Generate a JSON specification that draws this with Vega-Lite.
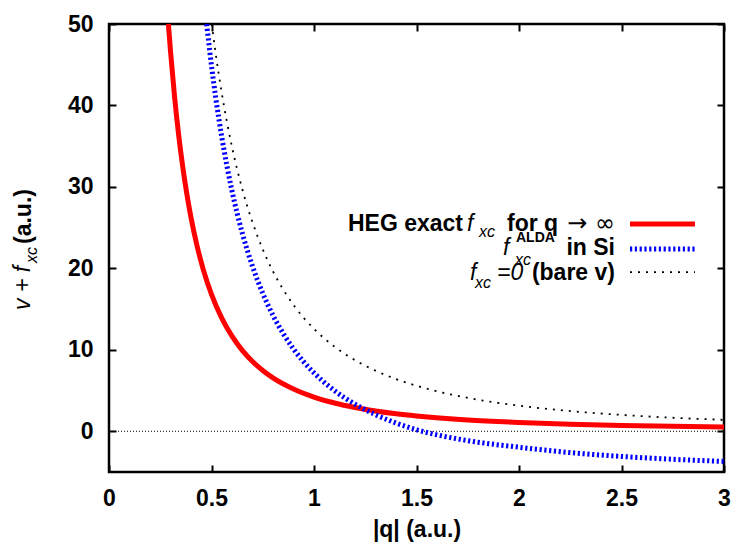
{
  "$schema": "https://vega.github.io/schema/vega-lite/v6.json",
  "width": 615,
  "height": 448,
  "autosize": "none",
  "padding": {"left": 109, "top": 24, "right": 14, "bottom": 76},
  "config": {"view": {"stroke": "black", "strokeWidth": 2.5}, "font": "Liberation Sans"},
  "encoding": {
    "x": {"field": "q", "type": "quantitative", "scale": {"domain": [0, 3], "nice": false, "zero": false}, "axis": null},
    "y": {"field": "v", "type": "quantitative", "scale": {"domain": [-5, 50], "nice": false, "zero": false}, "axis": null}
  },
  "layer": [
    {
      "data": {"values": [{"q": 0, "q2": 3, "v": 0}]},
      "mark": {"type": "rule", "color": "black", "strokeWidth": 1, "strokeDash": [1, 2]},
      "encoding": {"x2": {"field": "q2"}}
    },
    {
      "data": {"values": [
        {"q": 0.2898, "v": 50}, {"q": 0.3, "v": 46.67}, {"q": 0.32, "v": 41.02}, {"q": 0.34, "v": 36.33},
        {"q": 0.36, "v": 32.41}, {"q": 0.38, "v": 29.09}, {"q": 0.4, "v": 26.25}, {"q": 0.43, "v": 22.71},
        {"q": 0.46, "v": 19.85}, {"q": 0.5, "v": 16.8}, {"q": 0.55, "v": 13.88}, {"q": 0.6, "v": 11.67},
        {"q": 0.65, "v": 9.94}, {"q": 0.7, "v": 8.57}, {"q": 0.75, "v": 7.47}, {"q": 0.8, "v": 6.56},
        {"q": 0.9, "v": 5.19}, {"q": 1.0, "v": 4.2}, {"q": 1.1, "v": 3.47}, {"q": 1.2, "v": 2.92},
        {"q": 1.3, "v": 2.49}, {"q": 1.4, "v": 2.15}, {"q": 1.5, "v": 1.88}, {"q": 1.75, "v": 1.39},
        {"q": 2.0, "v": 1.08}, {"q": 2.25, "v": 0.87}, {"q": 2.5, "v": 0.71}, {"q": 2.75, "v": 0.61},
        {"q": 3.0, "v": 0.53}
      ]},
      "mark": {"type": "line", "color": "#ff0000", "strokeWidth": 5, "interpolate": "monotone"},
      "encoding": {
        "x": {"field": "q", "type": "quantitative", "scale": {"domain": [0, 3], "nice": false, "zero": false},
          "axis": {"orient": "bottom", "values": [0, 0.5, 1, 1.5, 2, 2.5, 3], "format": "~g", "tickSize": -7, "tickWidth": 2, "tickColor": "black",
            "domain": false, "grid": false, "labelFont": "Liberation Sans", "labelFontWeight": "bold", "labelFontSize": 23, "labelColor": "black",
            "labelPadding": 22, "labelFlush": false, "labelOverlap": false,
            "title": "|q| (a.u.)", "titleFont": "Liberation Sans", "titleFontWeight": "bold", "titleFontSize": 23, "titleColor": "black", "titlePadding": 8}},
        "y": {"field": "v", "type": "quantitative", "scale": {"domain": [-5, 50], "nice": false, "zero": false},
          "axis": {"orient": "left", "values": [0, 10, 20, 30, 40, 50], "format": "d", "tickSize": -7, "tickWidth": 2, "tickColor": "black",
            "domain": false, "grid": false, "labelFont": "Liberation Sans", "labelFontWeight": "bold", "labelFontSize": 23, "labelColor": "black",
            "labelPadding": 23, "labelFlush": false, "labelOverlap": false, "title": null}}
      }
    },
    {
      "data": {"values": [
        {"q": 0.4763, "v": 50}, {"q": 0.5, "v": 44.87}, {"q": 0.52, "v": 41.07}, {"q": 0.55, "v": 36.14},
        {"q": 0.6, "v": 29.51}, {"q": 0.65, "v": 24.34}, {"q": 0.7, "v": 20.25}, {"q": 0.75, "v": 16.94},
        {"q": 0.8, "v": 14.23}, {"q": 0.85, "v": 11.99}, {"q": 0.9, "v": 10.11}, {"q": 0.95, "v": 8.52},
        {"q": 1.0, "v": 7.17}, {"q": 1.1, "v": 4.99}, {"q": 1.2, "v": 3.33}, {"q": 1.3, "v": 2.04},
        {"q": 1.4, "v": 1.01}, {"q": 1.5, "v": 0.19}, {"q": 1.6, "v": -0.44}, {"q": 1.75, "v": -1.15},
        {"q": 2.0, "v": -1.96}, {"q": 2.25, "v": -2.62}, {"q": 2.5, "v": -3.09}, {"q": 2.75, "v": -3.44},
        {"q": 3.0, "v": -3.7}
      ]},
      "mark": {"type": "line", "color": "#0000ff", "strokeWidth": 5, "strokeDash": [2.2, 2.6], "interpolate": "monotone"}
    },
    {
      "data": {"values": [
        {"q": 0.5013, "v": 50}, {"q": 0.52, "v": 46.47}, {"q": 0.55, "v": 41.54}, {"q": 0.6, "v": 34.91},
        {"q": 0.65, "v": 29.74}, {"q": 0.7, "v": 25.65}, {"q": 0.75, "v": 22.34}, {"q": 0.8, "v": 19.63},
        {"q": 0.85, "v": 17.39}, {"q": 0.9, "v": 15.51}, {"q": 0.95, "v": 13.92}, {"q": 1.0, "v": 12.57},
        {"q": 1.1, "v": 10.39}, {"q": 1.2, "v": 8.73}, {"q": 1.3, "v": 7.44}, {"q": 1.4, "v": 6.41},
        {"q": 1.5, "v": 5.59}, {"q": 1.6, "v": 4.91}, {"q": 1.75, "v": 4.1}, {"q": 2.0, "v": 3.14},
        {"q": 2.25, "v": 2.48}, {"q": 2.5, "v": 2.01}, {"q": 2.75, "v": 1.66}, {"q": 3.0, "v": 1.4}
      ]},
      "mark": {"type": "line", "color": "black", "strokeWidth": 1.8, "strokeDash": [2, 6], "interpolate": "monotone"},
      "encoding": {
        "x": {"field": "q", "type": "quantitative", "scale": {"domain": [0, 3], "nice": false, "zero": false},
          "axis": {"orient": "top", "values": [0, 0.5, 1, 1.5, 2, 2.5, 3], "tickSize": -7, "tickWidth": 2, "tickColor": "black",
            "domain": false, "grid": false, "labels": false, "title": null}},
        "y": {"field": "v", "type": "quantitative", "scale": {"domain": [-5, 50], "nice": false, "zero": false},
          "axis": {"orient": "right", "values": [0, 10, 20, 30, 40, 50], "tickSize": -7, "tickWidth": 2, "tickColor": "black",
            "domain": false, "grid": false, "labels": false, "title": null}}
      }
    },
    {
      "data": {"values": [{"q": 2.5415, "q2": 2.8585, "v": 25.45}]},
      "mark": {"type": "rule", "color": "#ff0000", "strokeWidth": 5},
      "encoding": {"x2": {"field": "q2"}}
    },
    {
      "data": {"values": [{"q": 2.5415, "q2": 2.8585, "v": 22.38}]},
      "mark": {"type": "rule", "color": "#0000ff", "strokeWidth": 5, "strokeDash": [2.2, 2.6]},
      "encoding": {"x2": {"field": "q2"}}
    },
    {
      "data": {"values": [{"q": 2.5415, "q2": 2.8585, "v": 19.55}]},
      "mark": {"type": "rule", "color": "black", "strokeWidth": 1.8, "strokeDash": [2, 6]},
      "encoding": {"x2": {"field": "q2"}}
    },
    {
      "data": {"values": [
        {"q": 1.7268, "v": 24.53, "t": "HEG exact"},
        {"q": 2.4683, "v": 21.64, "t": "in Si"},
        {"q": 2.4683, "v": 18.57, "t": "(bare v)"}
      ]},
      "mark": {"type": "text", "font": "Liberation Sans", "fontWeight": "bold", "fontSize": 23, "align": "right", "baseline": "alphabetic", "color": "black"},
      "encoding": {"text": {"field": "t"}}
    },
    {
      "data": {"values": [{"q": 1.9415, "v": 24.53, "t": "for q"}]},
      "mark": {"type": "text", "font": "Liberation Sans", "fontWeight": "bold", "fontSize": 23, "align": "left", "baseline": "alphabetic", "color": "black"},
      "encoding": {"text": {"field": "t"}}
    },
    {
      "data": {"values": [{"q": 2.4683, "v": 24.53, "t": "→ ∞"}]},
      "mark": {"type": "text", "font": "DejaVu Sans", "fontSize": 24, "align": "right", "baseline": "alphabetic", "color": "black"},
      "encoding": {"text": {"field": "t"}}
    },
    {
      "data": {"values": [
        {"q": 1.7463, "v": 24.53, "t": "f"},
        {"q": 1.922, "v": 21.64, "t": "f"},
        {"q": 1.761, "v": 18.57, "t": "f"},
        {"q": 1.8927, "v": 18.57, "t": "=0"}
      ]},
      "mark": {"type": "text", "font": "Liberation Sans", "fontStyle": "italic", "fontSize": 23, "align": "left", "baseline": "alphabetic", "color": "black"},
      "encoding": {"text": {"field": "t"}}
    },
    {
      "data": {"values": [
        {"q": 1.8049, "v": 23.85, "t": "xc"},
        {"q": 1.9805, "v": 20.41, "t": "xc"},
        {"q": 1.785, "v": 17.59, "t": "xc"}
      ]},
      "mark": {"type": "text", "font": "Liberation Sans", "fontStyle": "italic", "fontSize": 16, "align": "left", "baseline": "alphabetic", "color": "black"},
      "encoding": {"text": {"field": "t"}}
    },
    {
      "data": {"values": [{"q": 1.9854, "v": 23.18, "t": "ALDA"}]},
      "mark": {"type": "text", "font": "Liberation Sans", "fontWeight": "bold", "fontSize": 14, "align": "left", "baseline": "alphabetic", "color": "black"},
      "encoding": {"text": {"field": "t"}}
    },
    {
      "data": {"values": [{"q": -0.3854, "v": 14.89, "t": "v + f"}]},
      "mark": {"type": "text", "font": "Liberation Sans", "fontStyle": "italic", "fontSize": 23, "angle": 270, "align": "left", "baseline": "alphabetic", "color": "black"},
      "encoding": {"text": {"field": "t"}}
    },
    {
      "data": {"values": [{"q": -0.3512, "v": 20.66, "t": "xc"}]},
      "mark": {"type": "text", "font": "Liberation Sans", "fontStyle": "italic", "fontSize": 16, "angle": 270, "align": "left", "baseline": "alphabetic", "color": "black"},
      "encoding": {"text": {"field": "t"}}
    },
    {
      "data": {"values": [{"q": -0.3805, "v": 22.99, "t": "(a.u.)"}]},
      "mark": {"type": "text", "font": "Liberation Sans", "fontWeight": "bold", "fontSize": 23, "angle": 270, "align": "left", "baseline": "alphabetic", "color": "black"},
      "encoding": {"text": {"field": "t"}}
    }
  ],
  "resolve": {"axis": {"x": "independent", "y": "independent"}}
}
